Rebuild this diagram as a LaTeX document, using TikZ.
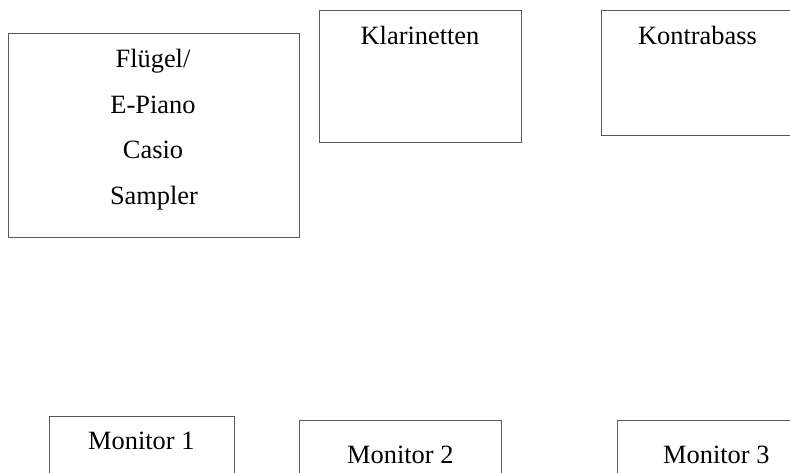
\documentclass[tikz,border=0pt]{standalone}
\usepackage{fontspec}
\setmainfont{Liberation Serif}
\begin{document}
\begin{tikzpicture}[x=1pt,y=-1pt,
  box/.style={draw=black!65, line width=1pt, fill=none},
  lbl/.style={anchor=base, inner sep=0pt, font=\fontsize{26.4}{30}\selectfont}]
\useasboundingbox (0,0) rectangle (790,473);
\clip (0,0) rectangle (790,473);
% boxes
\draw[box] (8.5,33.5) rectangle (299,238) coordinate (b1);
\draw[box] (319.5,10.5) rectangle (521,142.5) coordinate (b2);
\draw[box] (601,10.5) rectangle (800,135.5) coordinate (b3);
\draw[box] (49.5,416.5) rectangle (234,490) coordinate (m1);
\draw[box] (299.5,420.5) rectangle (501.5,490) coordinate (m2);
\draw[box] (617,420.5) rectangle (800,490) coordinate (m3);
% labels
\node[lbl] (t1) at (153,67.7) {Flügel/};
\node[lbl] (t2) at (153,113.3) {E-Piano};
\node[lbl] (t3) at (153,158.3) {Casio};
\node[lbl] (t4) at (154,204.3) {Sampler};
\node[lbl] (k1) at (420,44.3) {Klarinetten};
\node[lbl] (k2) at (697.5,44.3) {Kontrabass};
\node[lbl] (mt1) at (141.3,449.3) {Monitor 1};
\node[lbl] (mt2) at (400.3,463.3) {Monitor 2};
\node[lbl] (mt3) at (716.3,463.3) {Monitor 3};
\end{tikzpicture}
\end{document}
